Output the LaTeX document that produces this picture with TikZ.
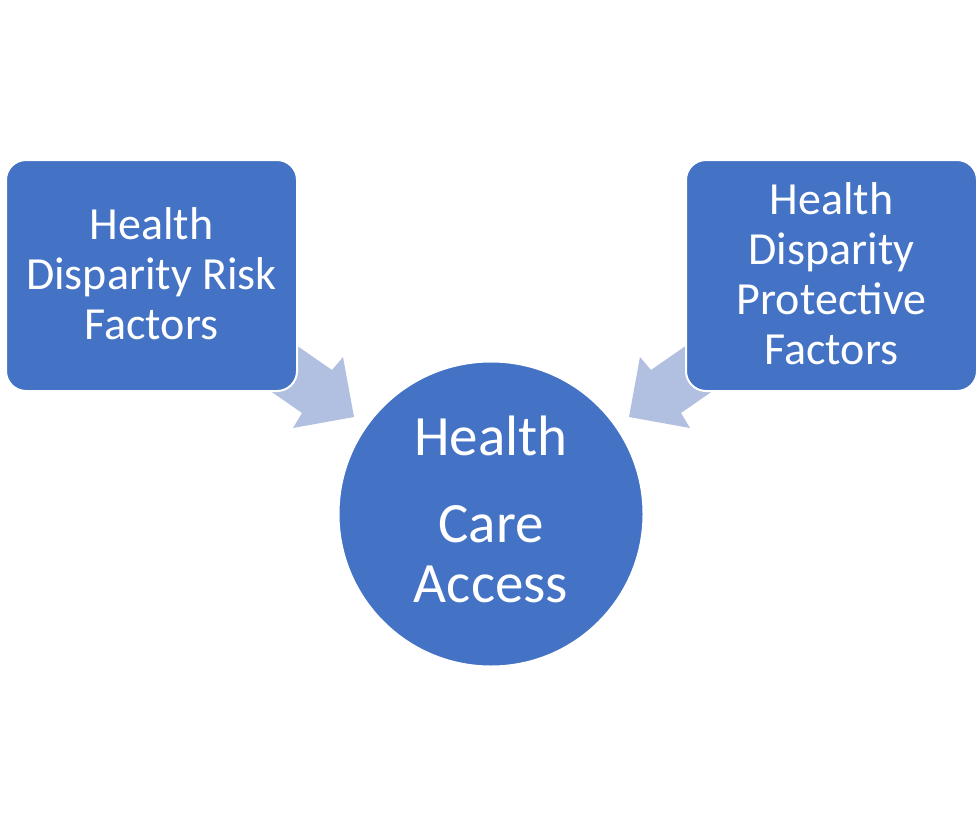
\documentclass[tikz,border=0pt]{standalone}
\usepackage{fontspec}
\setmainfont{Carlito}
\definecolor{boxblue}{HTML}{4472C4}
\definecolor{arrowblue}{HTML}{B1BFE0}
\begin{document}
\begin{tikzpicture}[x=1pt,y=-1pt,
  box/.style={draw=white,line width=2pt,fill=boxblue,rounded corners=20pt,
    minimum width=291pt,minimum height=231pt,inner sep=0pt},
  boxtext/.style={text=white,align=center,font=\fontsize{46}{50}\selectfont,inner sep=0pt},
  blockarrow/.style={fill=arrowblue,draw=none},
  hub/.style={circle,draw=white,line width=2pt,fill=boxblue,minimum size=305pt,inner sep=0pt},
  hubtext/.style={text=white,align=center,font=\fontsize{57}{60}\selectfont,inner sep=0pt}]
\useasboundingbox (0,0) rectangle (979,824);
% arrows
\fill[blockarrow] (283,336) -- (332,370) -- (343,357) -- (354,417) -- (293,428) -- (302,413) -- (253,379) -- cycle;
\fill[blockarrow] (700,336) -- (651,370) -- (640,357) -- (629,417) -- (690,428) -- (681,413) -- (730,379) -- cycle;
% boxes
\node[box] (risk) at (151.5,275.5) {};
\node[boxtext] (risktext) at ([yshift=2]risk.center) {Health\\Disparity Risk\\Factors};
\node[box] (prot) at (831.5,275.5) {};
\node[boxtext] (prottext) at ([yshift=2]prot.center) {Health\\Disparity\\Protective\\Factors};
\node[hub] (hca) at (491,514) {};
\node[hubtext] (hcatext) at ([yshift=5]hca.center) {Health\\[27pt]Care\\Access};
\end{tikzpicture}
\end{document}
